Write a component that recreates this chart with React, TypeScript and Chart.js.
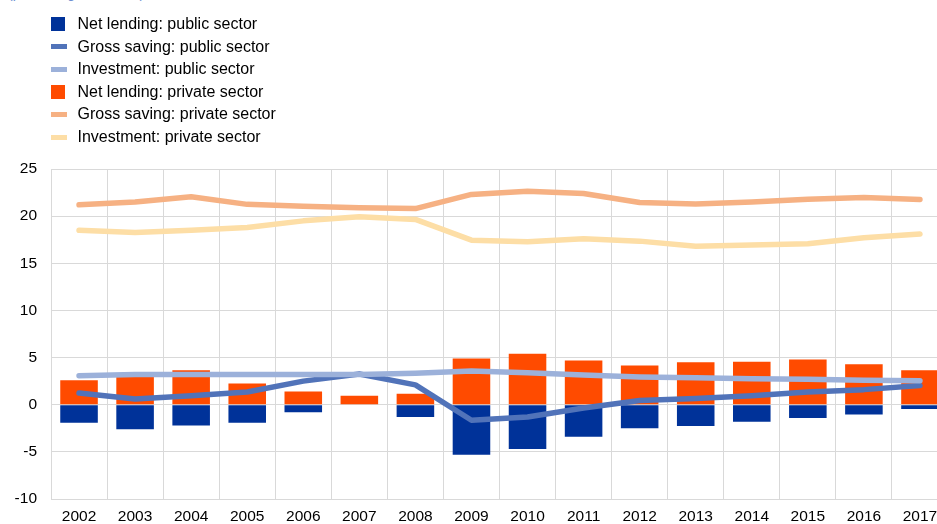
import React, { useEffect, useRef } from "react";
import { Chart, registerables } from "chart.js";

Chart.register(...registerables);

const years = ["2002","2003","2004","2005","2006","2007","2008","2009","2010","2011","2012","2013","2014","2015","2016","2017"];
const netLendingPublic = [-1.9,-2.6,-2.2,-1.9,-0.8,0,-1.3,-5.3,-4.7,-3.4,-2.5,-2.25,-1.8,-1.4,-1.05,-0.45];
const grossSavingPublic = [1.25,0.6,0.95,1.35,2.5,3.25,2.1,-1.65,-1.3,-0.35,0.45,0.65,0.95,1.35,1.6,2.05];
const investmentPublic = [3.07,3.2,3.2,3.2,3.2,3.2,3.35,3.58,3.4,3.15,2.95,2.85,2.75,2.7,2.6,2.55];
const netLendingPrivate = [2.6,3.0,3.65,2.25,1.4,0.95,1.15,4.9,5.4,4.7,4.15,4.5,4.55,4.8,4.3,3.65];
const grossSavingPrivate = [21.2,21.5,22.05,21.25,21.05,20.9,20.8,22.3,22.65,22.4,21.45,21.3,21.5,21.8,21.98,21.77];
const investmentPrivate = [18.5,18.27,18.5,18.8,19.5,19.93,19.65,17.45,17.28,17.6,17.35,16.8,16.93,17.07,17.7,18.1];
const yTicks = [-10,-5,0,5,10,15,20,25];

const C_NLPUB = "#003299";
const C_GSPUB = "#5173b9";
const C_INVPUB = "#9cb1da";
const C_NLPRIV = "#ff4b00";
const C_GSPRIV = "#f6b183";
const C_INVPRIV = "#fddea6";

const legendItems = [
  { label: "Net lending: public sector", color: C_NLPUB, kind: "box" },
  { label: "Gross saving: public sector", color: C_GSPUB, kind: "line" },
  { label: "Investment: public sector", color: C_INVPUB, kind: "line" },
  { label: "Net lending: private sector", color: C_NLPRIV, kind: "box" },
  { label: "Gross saving: private sector", color: C_GSPRIV, kind: "line" },
  { label: "Investment: private sector", color: C_INVPRIV, kind: "line" },
];

const FONT = "'Liberation Sans', Arial, sans-serif";

export default function App() {
  const ref = useRef<HTMLCanvasElement | null>(null);
  useEffect(() => {
    if (!ref.current) return;
    const lineDs = (label: string, data: number[], color: string, order: number) => ({
      type: "line" as const,
      label,
      data,
      borderColor: color,
      backgroundColor: color,
      borderWidth: 5.5,
      pointRadius: 0,
      tension: 0,
      borderCapStyle: "round" as const,
      borderJoinStyle: "round" as const,
      order,
    });
    const chart = new Chart(ref.current, {
      type: "bar",
      data: {
        labels: years,
        datasets: [
          { type: "bar", label: "Net lending: public sector", data: netLendingPublic, backgroundColor: C_NLPUB, grouped: false, barPercentage: 0.67, categoryPercentage: 1, order: 10 } as any,
          { type: "bar", label: "Net lending: private sector", data: netLendingPrivate, backgroundColor: C_NLPRIV, grouped: false, barPercentage: 0.67, categoryPercentage: 1, order: 9 } as any,
          lineDs("Investment: private sector", investmentPrivate, C_INVPRIV, 5),
          lineDs("Gross saving: private sector", grossSavingPrivate, C_GSPRIV, 4),
          lineDs("Gross saving: public sector", grossSavingPublic, C_GSPUB, 3),
          lineDs("Investment: public sector", investmentPublic, C_INVPUB, 2),
        ],
      },
      options: {
        animation: false,
        responsive: false,
        maintainAspectRatio: false,
        layout: { padding: { top: 169, left: 0, right: 0, bottom: 0 } },
        plugins: { legend: { display: false }, tooltip: { enabled: false } },
        scales: {
          x: {
            offset: true,
            grid: { offset: true, color: "#d9d9d9", lineWidth: 1, drawTicks: false },
            border: { color: "#d9d9d9" },
            ticks: { color: "#000", font: { family: FONT, size: 15.5 }, padding: 8, maxRotation: 0, autoSkip: false },
            afterFit: (s: any) => { s.height = 25; },
          },
          y: {
            min: -10,
            max: 25,
            afterBuildTicks: (s: any) => { s.ticks = yTicks.map((v) => ({ value: v })); },
            grid: { color: "#d9d9d9", lineWidth: 1, drawTicks: false },
            border: { color: "#d9d9d9" },
            ticks: { color: "#000", font: { family: FONT, size: 15.5 }, padding: 14 },
            afterFit: (s: any) => { s.width = 51; },
          },
        },
      },
    });
    return () => chart.destroy();
  }, []);

  return (
    <div style={{ position: "fixed", left: 0, top: 0, width: 937, height: 524, overflow: "hidden", background: "#fff", fontFamily: FONT }}>
      <div style={{ position: "absolute", left: 8, top: -15, fontSize: 14, color: "#6f8fd0", whiteSpace: "nowrap" }}>(percentages of GDP)</div>
      <canvas ref={ref} width={948} height={524} style={{ position: "absolute", left: 0, top: 0, width: 948, height: 524 }} />
      {legendItems.map((it, i) => (
        <div key={i} style={{ position: "absolute", left: 51, top: 24 + i * 22.6 - 10, height: 20, display: "flex", alignItems: "center", whiteSpace: "nowrap" }}>
          <div style={{ width: 16, display: "flex", alignItems: "center" }}>
            {it.kind === "box"
              ? <div style={{ width: 14, height: 14, background: it.color }} />
              : <div style={{ width: 16, height: 5, background: it.color }} />}
          </div>
          <span style={{ marginLeft: 10.5, fontSize: 16, color: "#000" }}>{it.label}</span>
        </div>
      ))}
    </div>
  );
}
